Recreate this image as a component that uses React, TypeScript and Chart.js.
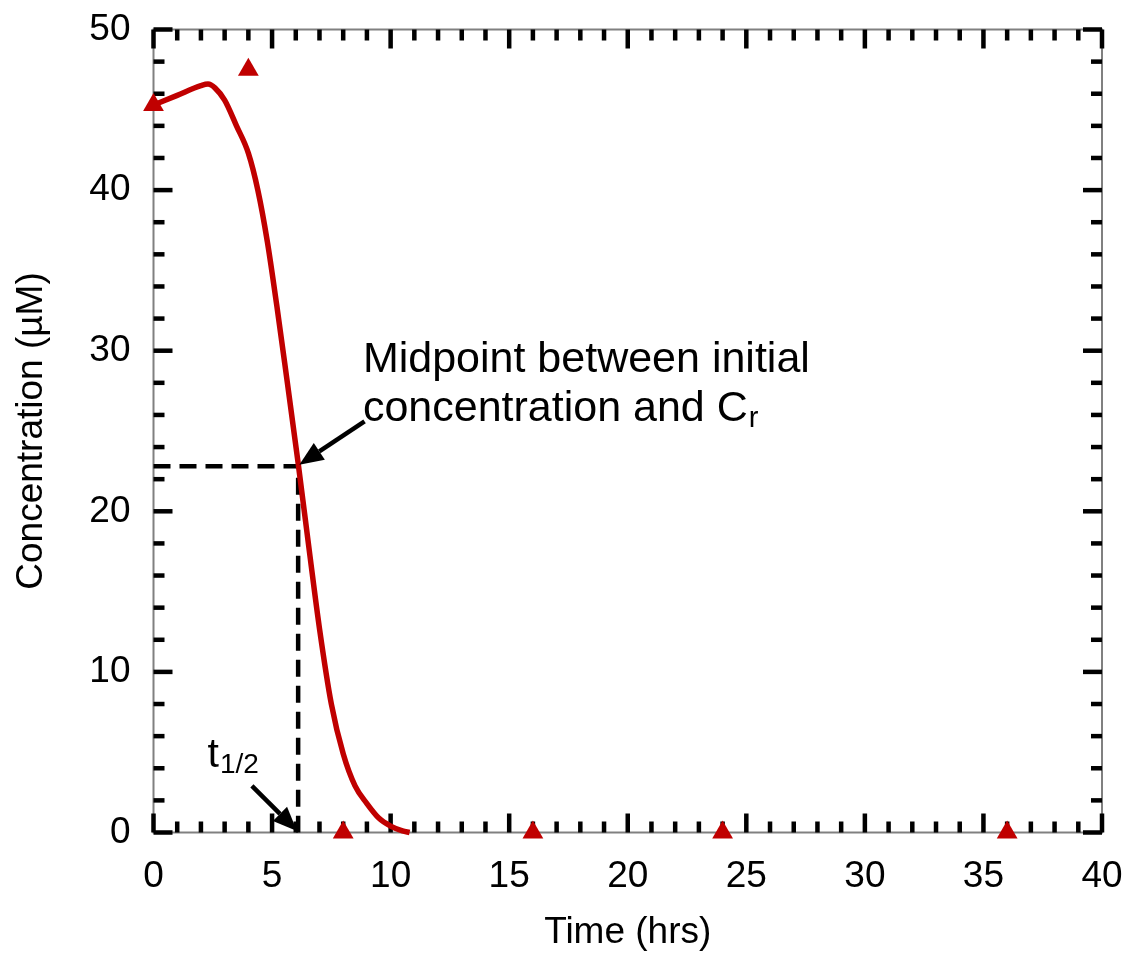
import { useEffect, useRef } from "react";
import { Chart, registerables } from "chart.js";

Chart.register(...registerables);

// Measured concentrations (triangles)
const MEASURED_TIMES = [0, 4, 8, 16, 24, 36];
const MEASURED_CONC = [45.3, 47.5, 0, 0, 0, 0];

// Fitted curve
const FIT_TIMES = [0, 1, 2, 2.3, 2.6, 3.0, 3.5, 4.0, 4.4, 4.8, 5.2, 5.6, 6.1, 6.6, 7.0, 7.5, 8.0, 8.5, 9.0, 9.5, 10.0, 10.5, 10.8];
const FIT_CONC = [45.3, 45.9, 46.5, 46.6, 46.35, 45.6, 44.0, 42.3, 40.0, 36.8, 32.8, 28.5, 23.0, 17.2, 12.7, 8.0, 4.9, 2.9, 1.8, 0.9, 0.4, 0.1, 0];

// Half-life guide
const HALF_LIFE_TIME = 6.1;
const HALF_CONC = 22.8;

// Axis ticks
const X_TICKS = [0, 5, 10, 15, 20, 25, 30, 35, 40];
const Y_TICKS = [0, 10, 20, 30, 40, 50];
const X_MINOR = Array.from({ length: 41 }, (_, i) => i);
const Y_MINOR = Array.from({ length: 26 }, (_, i) => i * 2);

const RED = "#c00000";
const FONT = "'Liberation Sans', Arial, sans-serif";

const framePlugin = {
  id: "frameTicks",
  beforeDatasetsDraw(chart: any) {
    const { ctx, chartArea } = chart;
    const { left, right, top, bottom } = chartArea;
    const xs = chart.scales.x;
    const ys = chart.scales.y;
    ctx.save();
    ctx.strokeStyle = "#808080";
    ctx.lineWidth = 2;
    ctx.strokeRect(left, top, right - left, bottom - top);
    ctx.fillStyle = "#000";
    const w = 4.5;
    X_MINOR.forEach((v) => {
      const len = v % 5 === 0 ? 19 : 11;
      const px = xs.getPixelForValue(v);
      ctx.fillRect(px - w / 2, bottom - len, w, len);
      ctx.fillRect(px - w / 2, top, w, len);
    });
    Y_MINOR.forEach((v) => {
      const len = v % 10 === 0 ? 19 : 11;
      const py = ys.getPixelForValue(v);
      ctx.fillRect(left, py - w / 2, len, w);
      ctx.fillRect(right - len, py - w / 2, len, w);
    });
    ctx.restore();
  },
};

function arrow(ctx: CanvasRenderingContext2D, x1: number, y1: number, x2: number, y2: number) {
  const ang = Math.atan2(y2 - y1, x2 - x1);
  const headLen = 24;
  const headW = 10;
  const bx = x2 - headLen * Math.cos(ang);
  const by = y2 - headLen * Math.sin(ang);
  ctx.beginPath();
  ctx.moveTo(x1, y1);
  ctx.lineTo(bx, by);
  ctx.lineWidth = 4.5;
  ctx.strokeStyle = "#000";
  ctx.stroke();
  ctx.beginPath();
  ctx.moveTo(x2, y2);
  ctx.lineTo(bx + headW * Math.sin(ang), by - headW * Math.cos(ang));
  ctx.lineTo(bx - headW * Math.sin(ang), by + headW * Math.cos(ang));
  ctx.closePath();
  ctx.fillStyle = "#000";
  ctx.fill();
}

const annotationPlugin = {
  id: "annotations",
  afterDatasetsDraw(chart: any) {
    const { ctx } = chart;
    const xs = chart.scales.x;
    const ys = chart.scales.y;
    const X = (v: number) => xs.getPixelForValue(v);
    const Y = (v: number) => ys.getPixelForValue(v);
    ctx.save();
    arrow(ctx, X(8.9), Y(25.6), X(HALF_LIFE_TIME + 0.05), Y(HALF_CONC + 0.1));
    arrow(ctx, X(4.15), Y(2.9), X(HALF_LIFE_TIME - 0.05), Y(0.1));

    ctx.fillStyle = "#000";
    ctx.textBaseline = "alphabetic";
    ctx.textAlign = "left";
    ctx.font = `43px ${FONT}`;
    const tx = X(8.83);
    ctx.fillText("Midpoint between initial", tx, Y(28.69));
    const line2 = "concentration and C";
    ctx.fillText(line2, tx, Y(25.6));
    const w2 = ctx.measureText(line2).width;
    ctx.font = `29px ${FONT}`;
    ctx.fillText("r", tx + w2 + 1, Y(25.6) + 6);

    ctx.font = `41px ${FONT}`;
    const t0 = X(2.28);
    ctx.fillText("t", t0, Y(4.1));
    const wt = ctx.measureText("t").width;
    ctx.font = `28px ${FONT}`;
    ctx.fillText("1/2", t0 + wt + 1, Y(4.1) + 6);
    ctx.restore();
  },
};

export default function App() {
  const ref = useRef<HTMLCanvasElement | null>(null);
  useEffect(() => {
    if (!ref.current) return;
    const chart = new Chart(ref.current, {
      type: "scatter",
      data: {
        datasets: [
          {
            type: "line",
            label: "fit",
            data: FIT_TIMES.map((t, i) => ({ x: t, y: FIT_CONC[i] })),
            borderColor: RED,
            borderWidth: 5.5,
            pointRadius: 0,
            cubicInterpolationMode: "monotone",
            fill: false,
            clip: false,
          } as any,
          {
            label: "measured",
            data: MEASURED_TIMES.map((t, i) => ({ x: t, y: MEASURED_CONC[i] })),
            pointStyle: "triangle",
            pointRadius: 12,
            backgroundColor: RED,
            borderColor: RED,
            borderWidth: 0,
            clip: false,
          } as any,
          {
            type: "line",
            label: "half",
            data: [
              { x: 0, y: HALF_CONC },
              { x: HALF_LIFE_TIME, y: HALF_CONC },
              { x: HALF_LIFE_TIME, y: 0 },
            ],
            borderColor: "#000",
            borderWidth: 4.5,
            borderDash: [17, 9],
            pointRadius: 0,
            tension: 0,
            fill: false,
            clip: false,
          } as any,
        ],
      },
      options: {
        animation: false,
        responsive: false,
        maintainAspectRatio: false,
        layout: { padding: { left: 0, top: 29.5, right: 23, bottom: 0 } },
        plugins: { legend: { display: false }, tooltip: { enabled: false } },
        scales: {
          x: {
            type: "linear",
            min: 0,
            max: 40,
            grid: { display: false, drawTicks: false },
            border: { display: false },
            afterBuildTicks: (s: any) => {
              s.ticks = X_TICKS.map((v) => ({ value: v }));
            },
            afterFit: (s: any) => {
              s.height = 122.5;
              s.paddingLeft = 0;
              s.paddingRight = 0;
            },
            ticks: {
              color: "#000",
              font: { family: FONT, size: 37 },
              padding: 22,
              maxRotation: 0,
              autoSkip: false,
            },
            title: {
              display: true,
              text: "Time (hrs)",
              color: "#000",
              font: { family: FONT, size: 37 },
              padding: { top: 0, bottom: 0 },
            },
          },
          y: {
            type: "linear",
            min: 0,
            max: 50,
            grid: { display: false, drawTicks: false },
            border: { display: false },
            afterBuildTicks: (s: any) => {
              s.ticks = Y_TICKS.map((v) => ({ value: v }));
            },
            afterFit: (s: any) => {
              s.width = 153.5;
              s.paddingTop = 0;
              s.paddingBottom = 0;
            },
            ticks: {
              color: "#000",
              font: { family: FONT, size: 37 },
              padding: 23,
              autoSkip: false,
            },
            title: {
              display: true,
              text: "Concentration (\u00b5M)",
              color: "#000",
              font: { family: FONT, size: 37 },
              padding: { top: 10, bottom: 0 },
            },
          },
        },
      } as any,
      plugins: [framePlugin, annotationPlugin],
    });
    return () => chart.destroy();
  }, []);
  return (
    <div style={{ position: "absolute", left: 0, top: 0, width: 1125, height: 955, background: "#fff" }}>
      <canvas ref={ref} width={1125} height={955} style={{ display: "block", width: 1125, height: 955 }} />
    </div>
  );
}
